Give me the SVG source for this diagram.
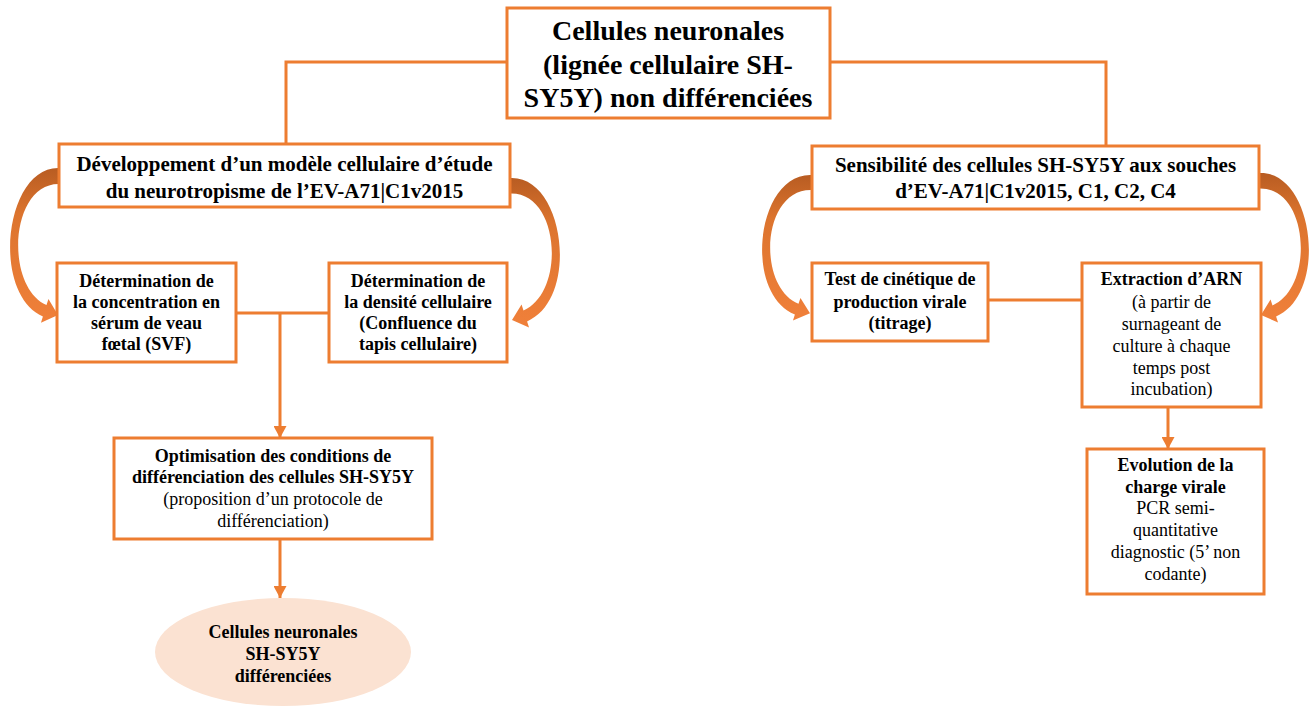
<svg xmlns="http://www.w3.org/2000/svg" width="1309" height="707" viewBox="0 0 1309 707">
<defs>
<style>
.box{fill:#fff;stroke:#ED7D31;stroke-width:3}
.ln{fill:none;stroke:#ED7D31;stroke-width:3}
text{font-family:"Liberation Serif","Times New Roman",serif;fill:#000;text-anchor:middle}
.t28{font-size:28px;font-weight:bold}
.t21{font-size:21px;font-weight:bold}
.b{font-size:18px;font-weight:bold}
.r{font-size:18px}
.curve{fill:url(#cg)}
</style>
<linearGradient id="cg" x1="0" y1="0" x2="0" y2="1">
<stop offset="0" stop-color="#B85C22"/>
<stop offset="0.3" stop-color="#DC742E"/>
<stop offset="1" stop-color="#F0803A"/>
</linearGradient>
<marker id="ah" markerUnits="userSpaceOnUse" markerWidth="13" markerHeight="13" viewBox="0 0 12 13" refX="12" refY="6.5" orient="auto">
<path d="M0,0 L12,6.5 L0,13 z" fill="#ED7D31"/>
</marker>
<path id="ca" d="M0,0 C-55,-3 -70,125 -17.1,148.5 L-19.05,154.7 L-2,147 L-11.55,130.9 L-13.5,137.1 C-56,118 -50,14 0,16 Z"/>
</defs>

<g id="connectors">
<path class="ln" d="M507,62 H286 V144"/>
<path class="ln" d="M830,62 H1106 V146"/>
<path class="ln" d="M236,313 H329"/>
<path class="ln" d="M280,313 V438" marker-end="url(#ah)"/>
<path class="ln" d="M280,539 V598" marker-end="url(#ah)"/>
<path class="ln" d="M988,300 H1082"/>
<path class="ln" d="M1168,407 V449" marker-end="url(#ah)"/>
<use href="#ca" class="curve" transform="translate(60,168)"/>
<use href="#ca" class="curve" transform="translate(510,178) scale(-1,0.966)"/>
<use href="#ca" class="curve" transform="translate(812,175) scale(1,0.94)"/>
<use href="#ca" class="curve" transform="translate(1259,173) scale(-1,0.966)"/>
</g>

<g id="n-top">
<rect class="box" x="507" y="8" width="323" height="110"/>
<text class="t28" x="668" y="40">Cellules neuronales</text>
<text class="t28" x="668" y="74">(lignée cellulaire SH-</text>
<text class="t28" x="668" y="107">SY5Y) non différenciées</text>
</g>

<g id="n-dev">
<rect class="box" x="59" y="144" width="451" height="63"/>
<text class="t21" x="284.5" y="171">Développement d’un modèle cellulaire d’étude</text>
<text class="t21" x="284.5" y="198">du neurotropisme de l’EV-A71|C1v2015</text>
</g>

<g id="n-sens">
<rect class="box" x="812" y="146" width="447" height="63"/>
<text class="t21" x="1035.5" y="172">Sensibilité des cellules SH-SY5Y aux souches</text>
<text class="t21" x="1035.5" y="198">d’EV-A71|C1v2015, C1, C2, C4</text>
</g>

<g id="n-svf">
<rect class="box" x="57" y="263" width="179" height="99"/>
<text class="b" x="146.5" y="287">Détermination de</text>
<text class="b" x="146.5" y="308">la concentration en</text>
<text class="b" x="146.5" y="329">sérum de veau</text>
<text class="b" x="146.5" y="350">fœtal (SVF)</text>
</g>

<g id="n-dens">
<rect class="box" x="329" y="263" width="178" height="99"/>
<text class="b" x="418" y="287">Détermination de</text>
<text class="b" x="418" y="308">la densité cellulaire</text>
<text class="b" x="418" y="329">(Confluence du</text>
<text class="b" x="418" y="350">tapis cellulaire)</text>
</g>

<g id="n-opt">
<rect class="box" x="114" y="438" width="318" height="101"/>
<text class="b" x="273" y="462">Optimisation des conditions de</text>
<text class="b" x="273" y="483">différenciation des cellules SH-SY5Y</text>
<text class="r" x="273" y="505">(proposition d’un protocole de</text>
<text class="r" x="273" y="527">différenciation)</text>
</g>

<g id="n-diff">
<ellipse cx="283" cy="652" rx="128" ry="54" fill="#FBE2D2"/>
<text class="b" x="283" y="638">Cellules neuronales</text>
<text class="b" x="283" y="660">SH-SY5Y</text>
<text class="b" x="283" y="682">différenciées</text>
</g>

<g id="n-test">
<rect class="box" x="812" y="263" width="176" height="78"/>
<text class="b" x="900" y="285">Test de cinétique de</text>
<text class="b" x="900" y="308">production virale</text>
<text class="b" x="900" y="329">(titrage)</text>
</g>

<g id="n-arn">
<rect class="box" x="1082" y="263" width="179" height="144"/>
<text class="b" x="1171.5" y="285">Extraction d’ARN</text>
<text class="r" x="1171.5" y="308">(à partir de</text>
<text class="r" x="1171.5" y="330">surnageant de</text>
<text class="r" x="1171.5" y="352">culture à chaque</text>
<text class="r" x="1171.5" y="374">temps post</text>
<text class="r" x="1171.5" y="395">incubation)</text>
</g>

<g id="n-evo">
<rect class="box" x="1087" y="449" width="177" height="145"/>
<text class="b" x="1175.5" y="471">Evolution de la</text>
<text class="b" x="1175.5" y="493">charge virale</text>
<text class="r" x="1175.5" y="514">PCR semi-</text>
<text class="r" x="1175.5" y="536">quantitative</text>
<text class="r" x="1175.5" y="558">diagnostic (5’ non</text>
<text class="r" x="1175.5" y="580">codante)</text>
</g>
</svg>
